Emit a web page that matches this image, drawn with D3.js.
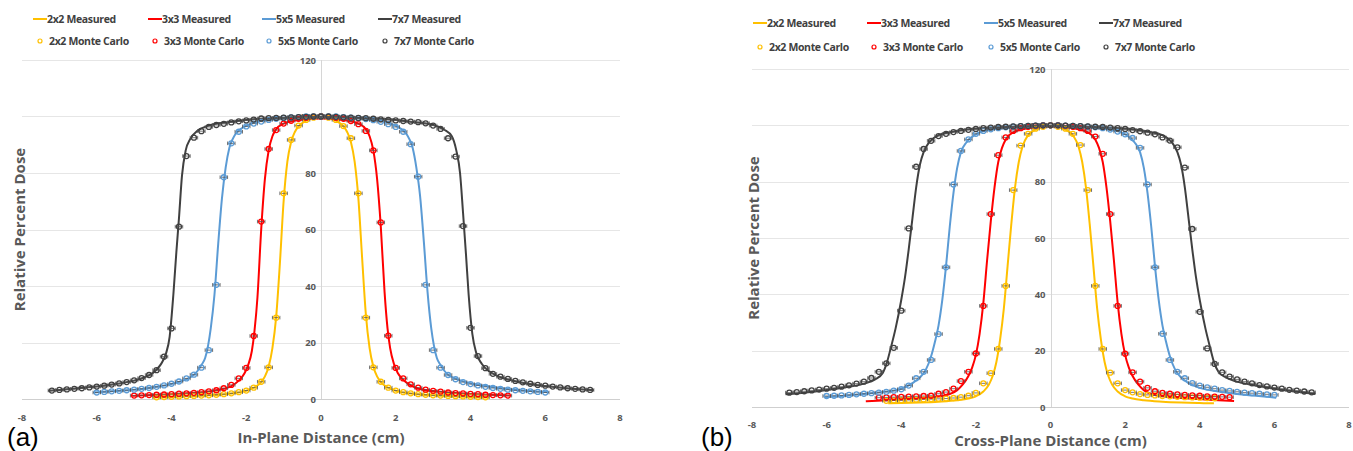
<!DOCTYPE html>
<html><head><meta charset="utf-8">
<script src="https://cdn.jsdelivr.net/npm/d3@7"></script>
<style>body{margin:0;background:#fff}svg{display:block}text{font-family:"Open Sans",sans-serif}</style>
</head><body><svg id="c" width="1353" height="451"></svg>
<script>
// ---------------- DATA ----------------
const seriesNames = ["2x2", "3x3", "5x5", "7x7"];
const xTicks = [-8, -6, -4, -2, 0, 2, 4, 6, 8];
const yTicks = [0, 20, 40, 60, 80, 100, 120];
const xTitles = ["In-Plane Distance (cm)", "Cross-Plane Distance (cm)"];
const yTitle = "Relative Percent Dose";
const panelLabels = ["(a)", "(b)"];
const mcXErr = 0.1;

// Panel (a) measured profiles [x, dose]
const aMeas2x2 = [[-4.5,0.5],[-4,0.7],[-3.5,1.0],[-3,1.3],[-2.5,1.8],[-2.2,2.3],[-2.0,2.9],[-1.8,4],[-1.6,6],[-1.5,8],[-1.4,11.5],[-1.3,18],[-1.2,29],[-1.1,48],[-1.0,70],[-0.9,84],[-0.8,91],[-0.7,94.5],[-0.6,96.5],[-0.4,98.5],[-0.2,99.4],[0,99.7],[0.2,99.4],[0.4,98.5],[0.6,96.5],[0.7,94.5],[0.8,91],[0.9,84],[1.0,71],[1.1,50],[1.2,30],[1.3,18],[1.4,11.5],[1.5,8],[1.6,6],[1.8,4],[2.0,2.9],[2.2,2.3],[2.5,1.8],[3,1.3],[3.5,1.0],[4,0.7],[4.5,0.5]];
const aMeas3x3 = [[-5.05,1.1],[-4.5,1.4],[-4,1.7],[-3.5,2.1],[-3,2.7],[-2.6,3.6],[-2.4,4.6],[-2.2,6.5],[-2.05,9],[-1.95,12],[-1.85,17],[-1.78,24],[-1.7,36],[-1.6,60],[-1.5,78],[-1.4,88],[-1.3,93],[-1.2,95.5],[-1,97.5],[-0.6,98.8],[0,99.3],[0.6,98.8],[1,97.5],[1.2,95.5],[1.3,93],[1.4,88],[1.5,78],[1.6,61],[1.7,38],[1.78,25],[1.85,18],[1.95,12.5],[2.05,9.3],[2.2,6.8],[2.4,4.8],[2.6,3.7],[3,2.8],[3.5,2.2],[4,1.8],[4.5,1.5],[5.05,1.2]];
const aMeas5x5 = [[-6.1,2.3],[-5.5,2.8],[-5,3.3],[-4.5,4.1],[-4,5.3],[-3.6,7],[-3.4,8.6],[-3.3,10],[-3.2,12],[-3.1,14.5],[-3.02,19],[-2.95,25],[-2.85,37],[-2.75,55],[-2.65,71],[-2.55,82],[-2.45,89],[-2.3,93.5],[-2.1,96],[-1.8,97.8],[-1.4,98.8],[-1,99.4],[0,99.8],[1,99.4],[1.4,98.8],[1.8,97.8],[2.1,96],[2.3,93.5],[2.45,89],[2.55,82],[2.65,72],[2.75,56],[2.85,38],[2.95,25],[3.02,19],[3.1,14.5],[3.2,12],[3.3,10],[3.4,8.6],[3.6,7.2],[4,5.6],[4.5,4.4],[5,3.5],[5.5,2.9],[6.1,2.4]];
const aMeas7x7 = [[-7.3,2.9],[-7.0,3.2],[-6.5,3.8],[-6.0,4.4],[-5.5,5.3],[-5.0,6.5],[-4.7,7.8],[-4.5,9.2],[-4.3,12],[-4.15,16],[-4.05,22],[-3.95,37],[-3.87,52],[-3.8,64],[-3.72,79],[-3.62,88],[-3.5,92],[-3.3,95],[-3.0,96.8],[-2.5,98],[-2.0,98.8],[-1.0,99.6],[0,99.9],[1.0,99.6],[2.0,98.8],[2.5,98],[3.0,97.0],[3.3,95.3],[3.5,93],[3.62,88],[3.72,80],[3.8,66],[3.88,51],[3.95,37],[4.05,23],[4.15,16.5],[4.3,12.5],[4.5,9.8],[4.7,8.3],[5.0,6.9],[5.5,5.5],[6.0,4.6],[6.5,3.9],[7.0,3.4],[7.3,3.1]];

// Panel (a) Monte Carlo [x, dose]
const aMC2x2 = [[-4.4,0.6],[-4.2,0.7],[-4.0,0.8],[-3.8,0.9],[-3.6,1.0],[-3.4,1.1],[-3.2,1.2],[-3.0,1.3],[-2.8,1.5],[-2.6,1.7],[-2.4,2.0],[-2.2,2.4],[-2.0,3.0],[-1.8,4.0],[-1.6,6.1],[-1.4,11.2],[-1.2,28.8],[-1.0,72.8],[-0.8,91.7],[-0.6,96.8],[-0.4,98.8],[-0.2,99.6],[0,100],[0.2,99.6],[0.4,98.8],[0.6,96.6],[0.8,92.3],[1.0,72.8],[1.2,28.8],[1.4,11.2],[1.6,6.1],[1.8,4.0],[2.0,3.0],[2.2,2.4],[2.4,2.0],[2.6,1.7],[2.8,1.5],[3.0,1.3],[3.2,1.2],[3.4,1.1],[3.6,1.0],[3.8,0.9],[4.0,0.8],[4.2,0.7],[4.4,0.6]];
const aMC3x3 = [[-5.0,1.2],[-4.8,1.3],[-4.6,1.4],[-4.4,1.5],[-4.2,1.6],[-4.0,1.7],[-3.8,1.9],[-3.6,2.0],[-3.4,2.2],[-3.2,2.4],[-3.0,2.7],[-2.8,3.1],[-2.6,3.8],[-2.4,5.0],[-2.2,7.3],[-2.0,11.0],[-1.8,22.3],[-1.6,62.8],[-1.4,88.5],[-1.2,95.2],[-1.0,97.5],[-0.8,98.5],[-0.6,99.2],[-0.4,99.6],[-0.2,99.9],[0,100],[0.2,99.9],[0.4,99.6],[0.6,99.2],[0.8,98.4],[1.0,97.3],[1.2,94.9],[1.4,88.0],[1.6,62.5],[1.8,22.4],[2.0,11.0],[2.2,7.3],[2.4,5.2],[2.6,4.0],[2.8,3.3],[3.0,2.9],[3.2,2.6],[3.4,2.3],[3.6,2.1],[3.8,2.0],[4.0,1.8],[4.2,1.7],[4.4,1.5],[4.6,1.4],[4.8,1.3],[5.0,1.2]];
const aMC5x5 = [[-6.0,2.3],[-5.8,2.5],[-5.6,2.7],[-5.4,2.9],[-5.2,3.1],[-5.0,3.3],[-4.8,3.6],[-4.6,3.9],[-4.4,4.3],[-4.2,4.8],[-4.0,5.4],[-3.8,6.2],[-3.6,7.3],[-3.4,8.6],[-3.2,11.1],[-3.0,17.3],[-2.8,40.4],[-2.6,78.5],[-2.4,90.5],[-2.2,94.6],[-2.0,96.5],[-1.8,97.5],[-1.6,98.2],[-1.4,98.8],[-1.2,99.2],[-1.0,99.5],[-0.8,99.7],[-0.6,99.8],[-0.4,100],[-0.2,100],[0,100],[0.2,100],[0.4,100],[0.6,99.8],[0.8,99.6],[1.0,99.4],[1.2,99.1],[1.4,98.7],[1.6,98.1],[1.8,97.3],[2.0,96.3],[2.2,94.6],[2.4,90.2],[2.6,78.7],[2.8,40.4],[3.0,17.3],[3.2,11.1],[3.4,8.5],[3.6,7.0],[3.8,6.0],[4.0,5.3],[4.2,4.8],[4.4,4.3],[4.6,3.9],[4.8,3.6],[5.0,3.3],[5.2,3.1],[5.4,2.9],[5.6,2.7],[5.8,2.5],[6.0,2.3]];
const aMC7x7 = [[-7.2,3.0],[-7.0,3.2],[-6.8,3.4],[-6.6,3.6],[-6.4,3.8],[-6.2,4.1],[-6.0,4.4],[-5.8,4.7],[-5.6,5.1],[-5.4,5.5],[-5.2,6.0],[-5.0,6.6],[-4.8,7.4],[-4.6,8.5],[-4.4,10.2],[-4.2,15.0],[-4.0,25.0],[-3.8,61.0],[-3.6,86.0],[-3.4,92.5],[-3.2,94.8],[-3.0,96.3],[-2.8,97.0],[-2.6,97.4],[-2.4,97.9],[-2.2,98.3],[-2.0,98.6],[-1.8,98.9],[-1.6,99.3],[-1.4,99.4],[-1.2,99.5],[-1.0,99.6],[-0.8,99.7],[-0.6,99.8],[-0.4,99.9],[-0.2,100],[0,100],[0.2,100],[0.4,99.9],[0.6,99.7],[0.8,99.6],[1.0,99.5],[1.2,99.4],[1.4,99.2],[1.6,99.0],[1.8,98.8],[2.0,98.6],[2.2,98.4],[2.4,98.2],[2.6,98.0],[2.8,97.6],[3.0,96.8],[3.2,95.6],[3.4,92.3],[3.6,85.8],[3.8,61.2],[4.0,25.2],[4.2,15.2],[4.4,10.9],[4.6,8.9],[4.8,7.9],[5.0,7.1],[5.2,6.4],[5.4,5.9],[5.6,5.4],[5.8,5.0],[6.0,4.7],[6.2,4.4],[6.4,4.1],[6.6,3.8],[6.8,3.6],[7.0,3.4],[7.2,3.2]];

// Panel (b) measured profiles [x, dose]
const bMeas2x2 = [[-4.35,1.3],[-4,1.4],[-3.5,1.6],[-3,1.9],[-2.5,2.4],[-2.2,3],[-2,3.8],[-1.8,5.5],[-1.65,8],[-1.55,11],[-1.45,16],[-1.35,24],[-1.25,35],[-1.15,50],[-1.05,65],[-0.95,78],[-0.85,87],[-0.75,92.5],[-0.6,96.5],[-0.4,98.5],[-0.2,99.3],[0,99.6],[0.2,99.3],[0.4,98.5],[0.6,96.5],[0.75,92.5],[0.85,87],[0.95,78],[1.05,65],[1.15,50],[1.25,35],[1.35,24],[1.45,16],[1.55,11],[1.65,8],[1.8,5.5],[2,3.8],[2.2,3],[2.5,2.4],[3,1.9],[3.5,1.6],[4,1.4],[4.38,1.3]];
const bMeas3x3 = [[-4.95,2],[-4.5,2.3],[-4,2.7],[-3.5,3.1],[-3,3.7],[-2.7,4.6],[-2.5,6],[-2.35,8],[-2.2,11],[-2.1,14],[-2.0,18.5],[-1.9,26],[-1.8,37],[-1.7,52],[-1.6,66],[-1.5,78],[-1.4,87],[-1.3,92],[-1.2,95],[-1.0,97.5],[-0.6,99],[0,99.7],[0.6,99],[1.0,97.5],[1.2,95],[1.3,92],[1.4,87],[1.5,78],[1.6,66],[1.7,52],[1.8,37],[1.9,26],[2.0,18.5],[2.1,14],[2.2,11],[2.35,8],[2.5,6],[2.7,4.6],[3,3.8],[3.5,3.2],[4,2.8],[4.5,2.4],[4.92,2.1]];
const bMeas5x5 = [[-6.05,3.5],[-5.5,4],[-5,4.6],[-4.5,5.3],[-4,6.5],[-3.7,8.5],[-3.5,10.5],[-3.35,13],[-3.2,18],[-3.1,23],[-3.0,29],[-2.9,38],[-2.8,50],[-2.7,64],[-2.6,76],[-2.5,85],[-2.4,90.5],[-2.25,94],[-2.0,96.8],[-1.6,98.5],[-1,99.3],[0,99.7],[1,99.3],[1.6,98.5],[2.0,96.8],[2.25,94],[2.4,90.5],[2.5,85],[2.6,76],[2.7,64],[2.8,50],[2.9,38],[3.0,29],[3.1,23],[3.2,18],[3.35,13],[3.5,10.5],[3.7,8.5],[4,6.8],[4.5,5.5],[5,4.6],[5.5,4],[6.05,3.3]];
const bMeas7x7 = [[-7.1,4.5],[-6.5,5.2],[-6,6],[-5.5,7],[-5,8.3],[-4.7,9.8],[-4.5,12],[-4.38,16],[-4.28,21],[-4.15,28],[-4.0,38],[-3.9,46],[-3.8,56],[-3.7,67],[-3.6,78],[-3.5,86],[-3.4,90.5],[-3.25,94],[-3.0,96.5],[-2.5,98],[-2,98.8],[-1,99.5],[0,99.8],[1,99.5],[2,98.8],[2.5,98],[3.0,96.5],[3.25,94],[3.4,90.5],[3.5,86],[3.6,78],[3.7,67],[3.8,56],[3.9,46],[4.0,38],[4.15,28],[4.28,21],[4.38,16],[4.5,12.5],[4.7,10.5],[5,9],[5.5,7.6],[6,6.5],[6.5,5.6],[7.1,4.6]];

// Panel (b) Monte Carlo [x, dose]
const bMC2x2 = [[-4.4,2.2],[-4.2,2.3],[-4.0,2.4],[-3.8,2.5],[-3.6,2.6],[-3.4,2.7],[-3.2,2.8],[-3.0,2.9],[-2.8,3.0],[-2.6,3.2],[-2.4,3.5],[-2.2,4.0],[-2.0,5.0],[-1.8,8.4],[-1.6,12.0],[-1.4,20.6],[-1.2,43.0],[-1.0,77.0],[-0.8,92.8],[-0.6,97.0],[-0.4,98.8],[-0.2,99.5],[0,100],[0.2,99.5],[0.4,98.8],[0.6,97.0],[0.8,93.0],[1.0,77.0],[1.2,43.0],[1.4,20.6],[1.6,12.2],[1.8,8.4],[2.0,6.0],[2.2,5.2],[2.4,4.6],[2.6,4.3],[2.8,4.1],[3.0,3.9],[3.2,3.8],[3.4,3.6],[3.6,3.5],[3.8,3.4],[4.0,3.3],[4.2,3.2],[4.4,3.1]];
const bMC3x3 = [[-4.6,3.3],[-4.4,3.4],[-4.2,3.5],[-4.0,3.6],[-3.8,3.7],[-3.6,3.8],[-3.4,3.9],[-3.2,4.0],[-3.0,4.7],[-2.8,5.3],[-2.6,6.5],[-2.4,9.2],[-2.2,12.5],[-2.0,19.0],[-1.8,35.9],[-1.6,68.5],[-1.4,89.4],[-1.2,95.7],[-1.0,98.0],[-0.8,99.0],[-0.6,99.5],[-0.4,99.8],[-0.2,100],[0,100],[0.2,100],[0.4,99.8],[0.6,99.5],[0.8,99.0],[1.0,98.0],[1.2,96.0],[1.4,89.9],[1.6,68.5],[1.8,35.9],[2.0,18.9],[2.2,12.3],[2.4,9.0],[2.6,6.8],[2.8,5.6],[3.0,5.0],[3.2,4.7],[3.4,4.5],[3.6,4.3],[3.8,4.1],[4.0,4.0],[4.2,3.8],[4.4,3.7],[4.6,3.6],[4.8,3.5]];
const bMC5x5 = [[-6.0,3.9],[-5.8,4.0],[-5.6,4.1],[-5.4,4.3],[-5.2,4.5],[-5.0,4.7],[-4.8,4.9],[-4.6,5.1],[-4.4,5.4],[-4.2,5.8],[-4.0,6.3],[-3.8,7.6],[-3.6,10.2],[-3.4,12.5],[-3.2,16.7],[-3.0,25.9],[-2.8,49.6],[-2.6,79.0],[-2.4,90.9],[-2.2,95.0],[-2.0,97.0],[-1.8,98.0],[-1.6,98.6],[-1.4,99.0],[-1.2,99.3],[-1.0,99.5],[-0.8,99.7],[-0.6,99.8],[-0.4,99.9],[-0.2,100],[0,100],[0.2,100],[0.4,99.9],[0.6,99.8],[0.8,99.7],[1.0,99.5],[1.2,99.3],[1.4,99.0],[1.6,98.5],[1.8,97.8],[2.0,96.8],[2.2,95.5],[2.4,92.0],[2.6,79.0],[2.8,49.6],[3.0,26.0],[3.2,16.7],[3.4,12.5],[3.6,10.2],[3.8,8.5],[4.0,7.6],[4.2,7.0],[4.4,6.5],[4.6,6.0],[4.8,5.7],[5.0,5.4],[5.2,5.1],[5.4,4.9],[5.6,4.7],[5.8,4.5],[6.0,4.3]];
const bMC7x7 = [[-7.0,5.1],[-6.8,5.3],[-6.6,5.6],[-6.4,5.9],[-6.2,6.2],[-6.0,6.5],[-5.8,6.8],[-5.6,7.2],[-5.4,7.7],[-5.2,8.3],[-5.0,9.0],[-4.8,10.3],[-4.6,12.5],[-4.4,15.5],[-4.2,21.0],[-4.0,34.2],[-3.8,63.4],[-3.6,85.3],[-3.4,91.6],[-3.2,94.5],[-3.0,96.2],[-2.8,97.0],[-2.6,97.6],[-2.4,98.0],[-2.2,98.4],[-2.0,98.7],[-1.8,99.0],[-1.6,99.2],[-1.4,99.4],[-1.2,99.5],[-1.0,99.6],[-0.8,99.7],[-0.6,99.8],[-0.4,99.9],[-0.2,100],[0,100],[0.2,100],[0.4,99.9],[0.6,99.8],[0.8,99.7],[1.0,99.6],[1.2,99.5],[1.4,99.4],[1.6,99.2],[1.8,99.0],[2.0,98.7],[2.2,98.3],[2.4,97.9],[2.6,97.4],[2.8,96.8],[3.0,95.7],[3.2,94.6],[3.4,92.2],[3.6,85.0],[3.8,63.2],[4.0,33.8],[4.2,20.8],[4.4,15.3],[4.6,12.3],[4.8,10.8],[5.0,9.8],[5.2,9.0],[5.4,8.4],[5.6,7.8],[5.8,7.3],[6.0,6.9],[6.2,6.5],[6.4,6.1],[6.6,5.8],[6.8,5.5],[7.0,5.2]];

// ---------------- STYLE / LAYOUT ----------------
const colors = ["#FFC000", "#FF0000", "#5B9BD5", "#404040"];
const panels = [
  { meas: [aMeas2x2, aMeas3x3, aMeas5x5, aMeas7x7], mc: [aMC2x2, aMC3x3, aMC5x5, aMC7x7],
    xr: [22, 620], yr: [399, 60], legX: [33, 148, 262, 378], legY: [19, 41],
    tickY: 421, xTitleY: 443, yTitleX: 20, labelX: 7, labelY: 446 },
  { meas: [bMeas2x2, bMeas3x3, bMeas5x5, bMeas7x7], mc: [bMC2x2, bMC3x3, bMC5x5, bMC7x7],
    xr: [752, 1349], yr: [407, 69], legX: [753, 867, 984, 1099], legY: [23, 47],
    tickY: 428, xTitleY: 446, yTitleX: 754, labelX: 701, labelY: 446 }
];

const svg = d3.select("#c");
svg.append("rect").attr("width", 1353).attr("height", 451).attr("fill", "#fff");

panels.forEach((p, pi) => {
  const x = d3.scaleLinear().domain([xTicks[0], xTicks[xTicks.length - 1]]).range(p.xr);
  const y = d3.scaleLinear().domain([yTicks[0], yTicks[yTicks.length - 1]]).range(p.yr);
  const g = svg.append("g");

  // gridlines
  g.selectAll(".grid").data(yTicks).join("line")
    .attr("x1", p.xr[0]).attr("x2", p.xr[1])
    .attr("y1", d => Math.round(y(d)) + 0.5).attr("y2", d => Math.round(y(d)) + 0.5)
    .attr("stroke", d => d === 0 ? "#cfcfcf" : "#e6e6e6").attr("stroke-width", 1);
  // vertical axis line at x = 0
  g.append("line").attr("x1", Math.round(x(0)) + 0.5).attr("x2", Math.round(x(0)) + 0.5)
    .attr("y1", p.yr[1]).attr("y2", p.yr[0]).attr("stroke", "#d6d6d6");

  // y tick labels
  g.selectAll(".yt").data(yTicks).join("text")
    .attr("x", x(0) - 5).attr("y", d => y(d) + 3.5)
    .attr("text-anchor", "end").attr("font-size", 9.5).attr("font-weight", 700)
    .attr("fill", "#595959").text(d => d);
  // x tick labels
  g.selectAll(".xt").data(xTicks).join("text")
    .attr("x", d => x(d)).attr("y", p.tickY)
    .attr("text-anchor", "middle").attr("font-size", 9.5).attr("font-weight", 700)
    .attr("fill", "#595959").text(d => d);

  // titles
  g.append("text").attr("x", x(0)).attr("y", p.xTitleY).attr("text-anchor", "middle")
    .attr("font-size", 15).attr("font-weight", 700).attr("fill", "#595959").text(xTitles[pi]);
  g.append("text").attr("transform", `translate(${p.yTitleX},${(p.yr[0] + p.yr[1]) / 2}) rotate(-90)`)
    .attr("dy", "0.35em").attr("text-anchor", "middle")
    .attr("font-size", 15).attr("font-weight", 700).attr("fill", "#595959").text(yTitle);
  g.append("text").attr("x", p.labelX).attr("y", p.labelY)
    .style("font-family", "'Liberation Sans', Arial, sans-serif").attr("font-size", 26)
    .attr("fill", "#000").text(panelLabels[pi]);

  // measured lines
  const line = d3.line().x(d => x(d[0])).y(d => y(d[1])).curve(d3.curveMonotoneX);
  p.meas.forEach((s, i) => {
    g.append("path").datum(s).attr("d", line).attr("fill", "none")
      .attr("stroke", colors[i]).attr("stroke-width", 2);
  });

  // Monte Carlo points with horizontal error bars
  p.mc.forEach((s, i) => {
    const mg = g.append("g");
    mg.selectAll(".eb").data(s).join("line")
      .attr("x1", d => x(d[0] - mcXErr)).attr("x2", d => x(d[0] + mcXErr))
      .attr("y1", d => y(d[1])).attr("y2", d => y(d[1]))
      .attr("stroke", "#555").attr("stroke-width", 0.8);
    mg.selectAll(".cl").data(s).join("line")
      .attr("x1", d => x(d[0] - mcXErr)).attr("x2", d => x(d[0] - mcXErr))
      .attr("y1", d => y(d[1]) - 1.8).attr("y2", d => y(d[1]) + 1.8)
      .attr("stroke", "#555").attr("stroke-width", 0.8);
    mg.selectAll(".cr").data(s).join("line")
      .attr("x1", d => x(d[0] + mcXErr)).attr("x2", d => x(d[0] + mcXErr))
      .attr("y1", d => y(d[1]) - 1.8).attr("y2", d => y(d[1]) + 1.8)
      .attr("stroke", "#555").attr("stroke-width", 0.8);
    mg.selectAll("circle").data(s).join("circle")
      .attr("cx", d => x(d[0])).attr("cy", d => y(d[1])).attr("r", 2.5)
      .attr("fill", "none").attr("stroke", colors[i]).attr("stroke-width", 1.3);
  });

  // legend
  seriesNames.forEach((n, i) => {
    const lx = p.legX[i];
    g.append("line").attr("x1", lx).attr("x2", lx + 14).attr("y1", p.legY[0]).attr("y2", p.legY[0])
      .attr("stroke", colors[i]).attr("stroke-width", 2);
    g.append("text").attr("x", lx + 14).attr("y", p.legY[0] + 3.8).attr("font-size", 10.5)
      .attr("font-weight", 700).attr("letter-spacing", -0.35).attr("fill", "#404040").text(n + " Measured");
    g.append("circle").attr("cx", lx + 7).attr("cy", p.legY[1]).attr("r", 2)
      .attr("fill", "none").attr("stroke", colors[i]).attr("stroke-width", 1.2);
    g.append("text").attr("x", lx + 16).attr("y", p.legY[1] + 3.8).attr("font-size", 10.5)
      .attr("font-weight", 700).attr("letter-spacing", -0.35).attr("fill", "#404040").text(n + " Monte Carlo");
  });
});
</script></body></html>
